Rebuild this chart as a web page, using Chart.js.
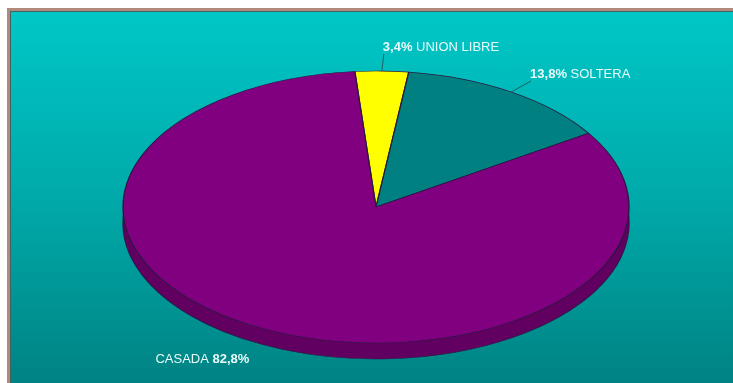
<!DOCTYPE html>
<html>
<head>
<meta charset="utf-8">
<script src="https://cdn.jsdelivr.net/npm/chart.js@4"></script>
<style>
  html, body { margin: 0; padding: 0; background: #fff; width: 733px; height: 383px; overflow: hidden; }
  #marco {
    position: absolute; left: 7px; top: 8px; width: 740px; height: 390px;
    border-top: 3px solid #b08a7a; border-left: 3px solid #b08a7a;
    box-shadow: inset 1px 1px 0 #3f6262;
    background: linear-gradient(to bottom, #00c7c7 0%, #00a8a8 50%, #007f7f 100%);
  }
  #lienzo { position: absolute; left: 0; top: 0; }
</style>
</head>
<body>
<div id="marco"></div>
<canvas id="lienzo" width="733" height="383"></canvas>
<script>
// Estado civil
const categorias = ['UNION LIBRE', 'SOLTERA', 'CASADA'];
const porcentajes = [3.4, 13.8, 82.8];
const colores = ['#ffff00', '#008080', '#800080'];
const coloresLado = ['#a8a800', '#005656', '#620062'];

// pastel en perspectiva: radios de la elipse y grosor del borde
const ELIPSE = { rx: 253, ry: 136, fondo: 16 };

// posicion de cada rotulo respecto al borde de su porcion
const rotulos = [
  { dx: 1, dy: -20, guia: true, nombrePrimero: false },
  { dx: 19, dy: -14, guia: true, nombrePrimero: false },
  { dx: -109, dy: 34, guia: false, nombrePrimero: true }
];

function aplanar(chart, ctx) {
  const arc = chart.getDatasetMeta(0).data[0];
  const R = arc.outerRadius;
  ctx.translate(arc.x, arc.y);
  ctx.scale(ELIPSE.rx / R, ELIPSE.ry / R);
  ctx.translate(-arc.x, -arc.y);
  return R;
}

const pastel3d = {
  id: 'pastel3d',
  beforeDatasetsDraw(chart) {
    const ctx = chart.ctx;
    const meta = chart.getDatasetMeta(0);
    ctx.save();
    const R = aplanar(chart, ctx);
    const paso = R / ELIPSE.ry;
    // costado del pastel: copias desplazadas hacia abajo
    for (let d = ELIPSE.fondo; d >= 1; d--) {
      ctx.save();
      ctx.translate(0, d * paso);
      meta.data.forEach((arc, i) => {
        const o = arc.options;
        arc.options = Object.assign({}, o, {
          backgroundColor: coloresLado[i],
          borderWidth: d === ELIPSE.fondo ? o.borderWidth : 0
        });
        arc.draw(ctx);
        arc.options = o;
      });
      ctx.restore();
    }
  },
  afterDatasetsDraw(chart) {
    chart.ctx.restore();
  },
  afterDraw(chart) {
    const ctx = chart.ctx;
    const meta = chart.getDatasetMeta(0);
    const normal = '13px "Liberation Sans", Arial, sans-serif';
    const negrita = 'bold 13px "Liberation Sans", Arial, sans-serif';
    ctx.save();
    ctx.textBaseline = 'alphabetic';
    ctx.textAlign = 'left';
    meta.data.forEach((arc, i) => {
      const medio = (arc.startAngle + arc.endAngle) / 2;
      const ax = arc.x + ELIPSE.rx * Math.cos(medio);
      const ay = arc.y + ELIPSE.ry * Math.sin(medio);
      const r = rotulos[i];
      const tx = ax + r.dx;
      const ty = ay + r.dy;
      if (r.guia) {
        ctx.strokeStyle = '#1f5f66';
        ctx.lineWidth = 1;
        ctx.beginPath();
        ctx.moveTo(ax, ay);
        ctx.lineTo(tx + 1, ty + 3);
        ctx.stroke();
      }
      const valor = porcentajes[i].toFixed(1).replace('.', ',') + '%';
      const partes = r.nombrePrimero
        ? [[categorias[i] + ' ', normal], [valor, negrita]]
        : [[valor + ' ', negrita], [categorias[i], normal]];
      let x = tx;
      ctx.fillStyle = '#e8fafa';
      partes.forEach(([txt, fuente]) => {
        ctx.font = fuente;
        ctx.fillText(txt, x, ty);
        x += ctx.measureText(txt).width;
      });
    });
    ctx.restore();
  }
};

new Chart(document.getElementById('lienzo'), {
  type: 'pie',
  data: {
    labels: categorias,
    datasets: [{
      data: porcentajes,
      backgroundColor: colores,
      borderColor: '#2a1840',
      borderWidth: 0.5,
      clip: false
    }]
  },
  options: {
    responsive: false,
    animation: false,
    events: [],
    rotation: -4.8,
    layout: { padding: { left: 276, right: 257, top: 107, bottom: 76 } },
    plugins: {
      legend: { display: false },
      tooltip: { enabled: false }
    }
  },
  plugins: [pastel3d]
});
</script>
</body>
</html>
